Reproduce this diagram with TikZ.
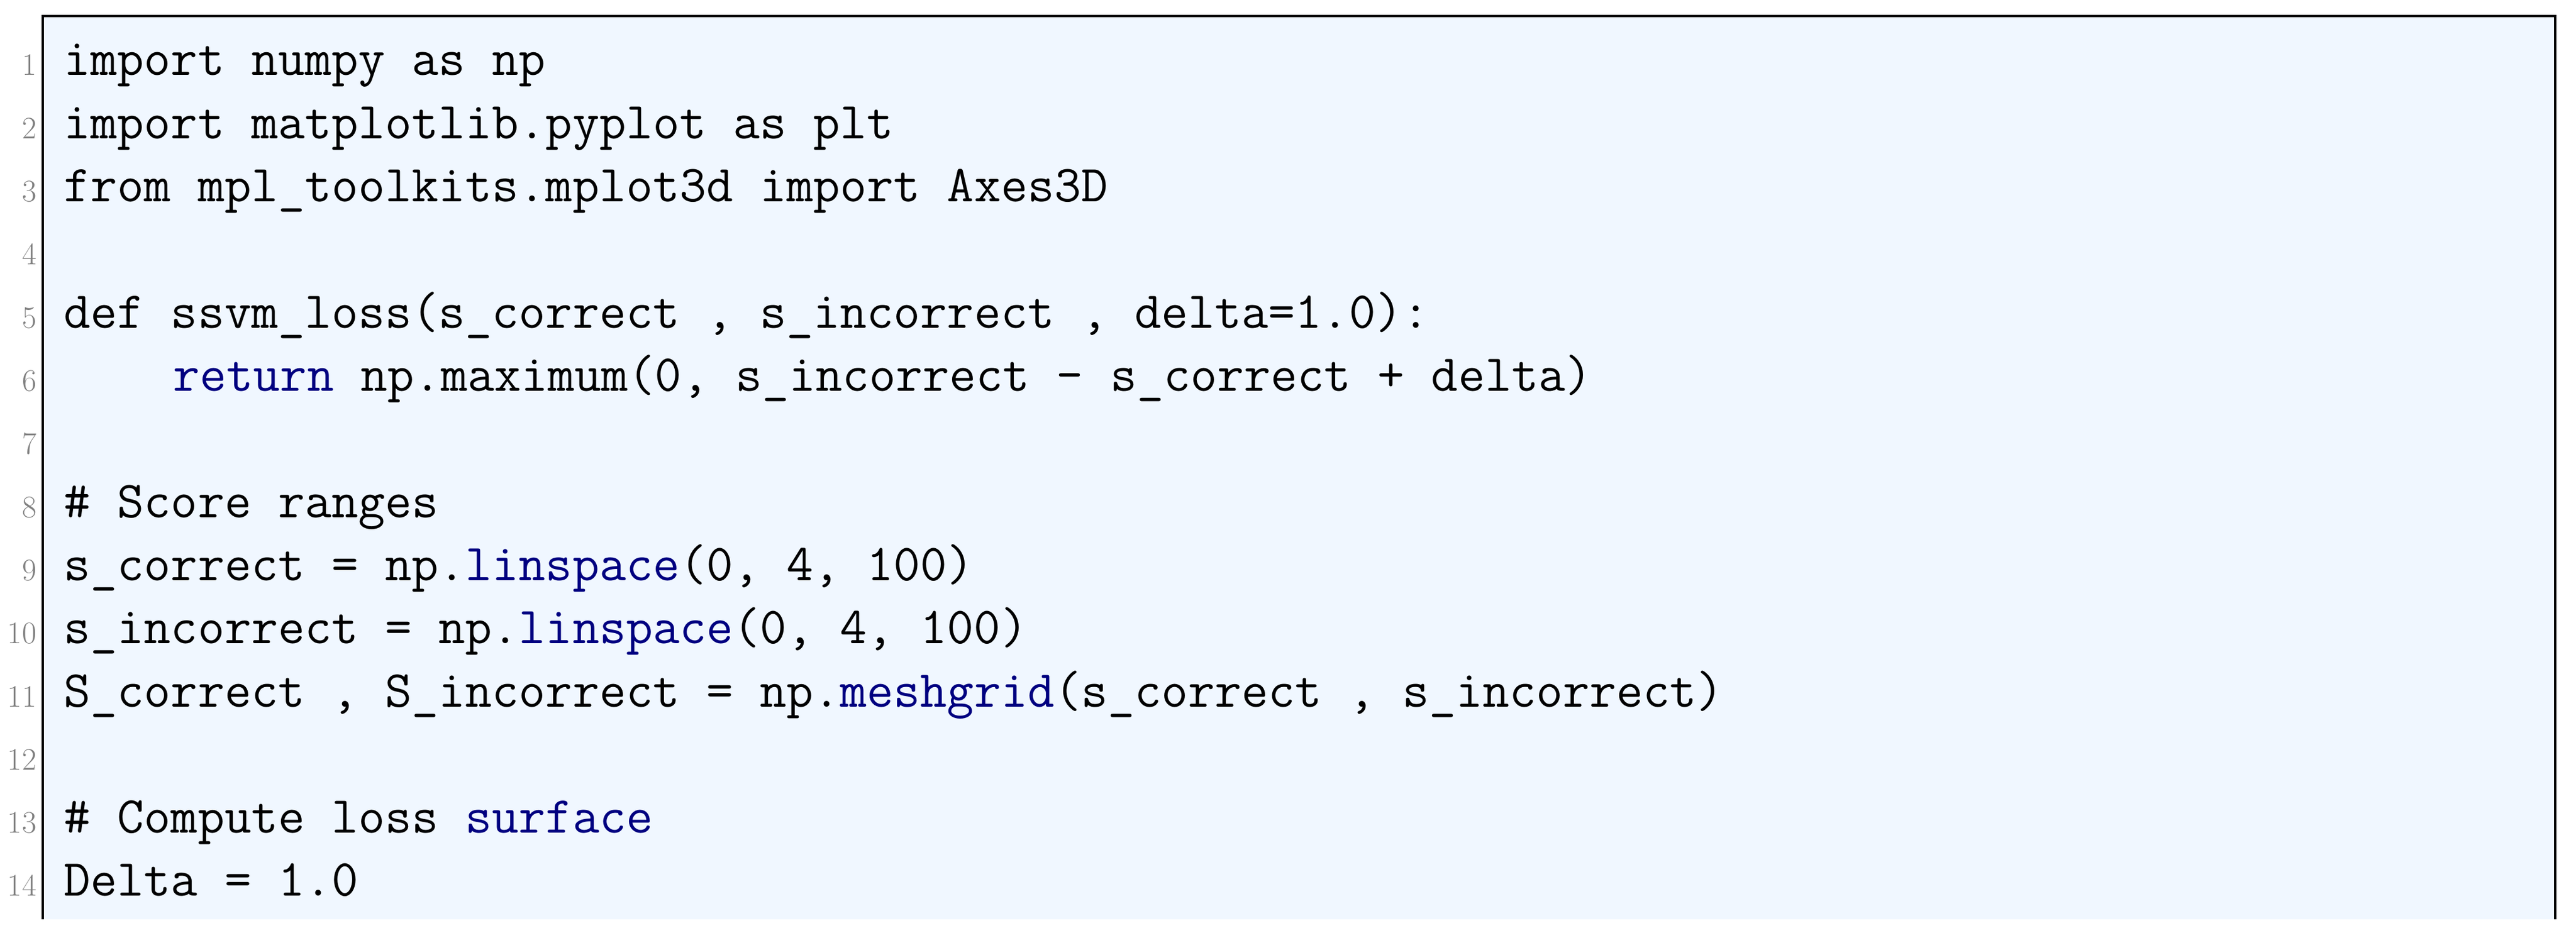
\documentclass[tikz,border=0pt]{standalone}
\usepackage{xcolor}
\definecolor{codebg}{RGB}{240,247,255}
\definecolor{kw}{RGB}{0,0,128}
\definecolor{lnum}{RGB}{128,128,128}
\newcommand{\kwd}[1]{\textcolor{kw}{#1}}
\begin{document}
\begin{tikzpicture}[
        code/.style={anchor=base west, inner sep=0pt, font=\fontsize{24.9}{30}\ttfamily},
        num/.style={anchor=base east, inner sep=0pt, text=lnum, font=\fontsize{15}{18}\selectfont}
    ]
        \useasboundingbox (0,0) rectangle (43.37,-15.71);
        \fill[codebg] (0.72,-0.27) rectangle (43.02,-15.48);
        \draw[line width=1.2pt] (0.72,-15.48) -- (0.72,-0.27) -- (43.02,-0.27) -- (43.02,-15.48);

        % line numbers
        \foreach \n in {1,...,14}
            \node[num] (n\n) at (0.62,{-1.27-(\n-1)*1.063}) {\n};

        \node[code] (l1) at (1.07,-1.27) {import numpy as np};
        \node[code] (l2) at (1.07,-2.333) {import matplotlib.pyplot as plt};
        \node[code] (l3) at (1.07,-3.396) {from mpl\_toolkits.mplot3d import Axes3D};
        \node[code] (l5) at (1.07,-5.522) {def ssvm\_loss(s\_correct , s\_incorrect , delta=1.0):};
        \node[code] (l6) at (2.91,-6.585) {\kwd{return} np.maximum(0, s\_incorrect - s\_correct + delta)};
        \node[code] (l8) at (1.07,-8.711) {\# Score ranges};
        \node[code] (l9) at (1.07,-9.774) {s\_correct = np.\kwd{linspace}(0, 4, 100)};
        \node[code] (l10) at (1.07,-10.837) {s\_incorrect = np.\kwd{linspace}(0, 4, 100)};
        \node[code] (l11) at (1.07,-11.9) {S\_correct , S\_incorrect = np.\kwd{meshgrid}(s\_correct , s\_incorrect)};
        \node[code] (l13) at (1.07,-14.026) {\# Compute loss \kwd{surface}};
        \node[code] (l14) at (1.07,-15.089) {Delta = 1.0};
    \end{tikzpicture}
\end{document}
